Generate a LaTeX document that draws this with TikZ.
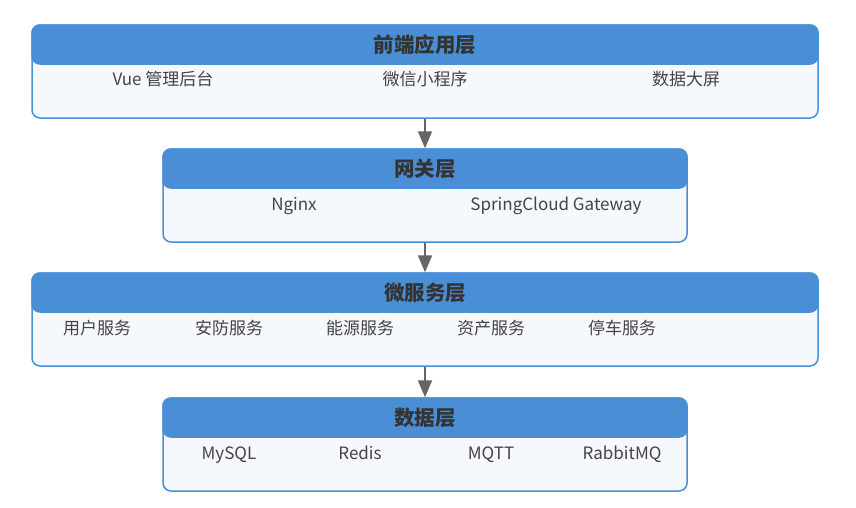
\documentclass[tikz,border=0pt]{standalone}
\usepackage{fontspec}
\setmainfont{Noto Sans CJK SC}
\usetikzlibrary{arrows.meta}
\definecolor{headblue}{HTML}{4A8ED6}
\definecolor{bodyfill}{HTML}{F5F8FC}
\definecolor{titlegray}{HTML}{333333}
\definecolor{itemgray}{HTML}{444444}
\definecolor{arrowgray}{HTML}{666666}
\tikzset{
  layerbody/.style={draw=headblue, line width=1.5pt, fill=bodyfill, rounded corners=8pt, minimum height=93pt, inner sep=0pt},
  layerhead/.style={draw=headblue, line width=1.5pt, fill=headblue, rounded corners=8pt, minimum height=39pt, inner sep=0pt, anchor=north, text=titlegray, font=\bfseries\fontsize{20.5}{20.5}\selectfont},
  item/.style={text=itemgray, font=\fontsize{17}{17}\selectfont, text height=12.5pt, text depth=3.5pt},
  flow/.style={draw=arrowgray, line width=2pt, -{Triangle[width=14pt,length=17pt]}}
}

\begin{document}
\begin{tikzpicture}[x=1pt, y=-1pt]
\useasboundingbox (0, 0) rectangle (856, 507);
% 前端应用层
\node [layerbody, minimum width=786] (front) at (425, 71.5) {};
\node [layerhead, minimum width=786] (front-head) at (front.north) {前端应用层};
\node [item] (vue) at (163, 81) {Vue 管理后台};
\node [item] (mini) at (425, 81) {微信小程序};
\node [item] (screen) at (686, 81) {数据大屏};
% 网关层
\node [layerbody, minimum width=524] (gateway) at (425, 195.5) {};
\node [layerhead, minimum width=524] (gateway-head) at (gateway.north) {网关层};
\node [item] (nginx) at (294, 206) {Nginx};
\node [item] (scg) at (556, 206) {SpringCloud Gateway};
% 微服务层
\node [layerbody, minimum width=786] (service) at (425, 319.5) {};
\node [layerhead, minimum width=786] (service-head) at (service.north) {微服务层};
\foreach \x/\name/\txt in {97/user/用户服务, 229/security/安防服务, 360/energy/能源服务, 491/asset/资产服务, 622/parking/停车服务}
  \node [item] (\name) at (\x, 330) {\txt};
% 数据层
\node [layerbody, minimum width=524] (data) at (425, 444.5) {};
\node [layerhead, minimum width=524] (data-head) at (data.north) {数据层};
\foreach \x/\name/\txt in {229/mysql/MySQL, 360/redis/Redis, 491/mqtt/MQTT, 622/rabbit/RabbitMQ}
  \node [item] (\name) at (\x, 455) {\txt};
% arrows
\draw [flow] (front.south) -- (gateway-head.north);
\draw [flow] (gateway.south) -- (service-head.north);
\draw [flow] (service.south) -- (data-head.north);
\end{tikzpicture}
\end{document}
